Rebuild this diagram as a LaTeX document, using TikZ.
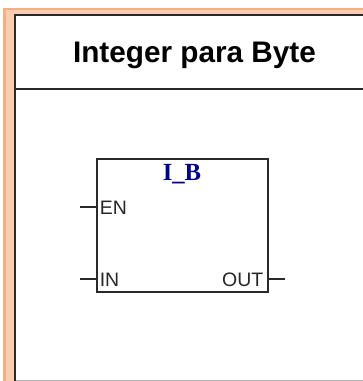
\documentclass[tikz,border=0pt]{standalone}
\usepackage{fontspec}
\setmainfont{Liberation Sans}
\newfontfamily\serifb{Liberation Serif}
\definecolor{peach}{HTML}{FBCDAE}
\definecolor{peachdark}{HTML}{F6AF84}
\definecolor{frameblack}{HTML}{2A2A2A}
\definecolor{ibblue}{HTML}{00008B}
\tikzset{
  x=0.75pt,y=-0.75pt,
  frameline/.style={draw=frameblack,line width=1.6pt},
  boxline/.style={draw=frameblack,line width=1.4pt},
  stub/.style={draw=frameblack,line width=1.4pt},
  pin/.style={inner sep=0pt,font=\fontsize{14.6pt}{16pt}\selectfont,text=black!85},
}
\begin{document}
\begin{tikzpicture}
\useasboundingbox (0,0) rectangle (363,381);
\fill[white] (0,0) rectangle (363,381);
% peach surround
\fill[peach] (3,8) rectangle (363,14);
\fill[peach] (3,8) rectangle (14,381);
\fill[peachdark] (3,8) rectangle (363,10);
\fill[peachdark] (3,8) rectangle (6,381);
% page frame
\draw[frameline] (363,15) -- (15,15) -- (15,381);
\draw[frameline,line width=1.4pt] (15,89) -- (363,89);
\draw[draw=black!30,line width=0.8pt] (16,380.5) -- (363,380.5);
% title
\node[inner sep=0pt,text=black] (title) at (194.5,55.5) {\fontsize{22.3pt}{26pt}\selectfont\bfseries Integer para Byte};
% block
\node[boxline,rectangle,outer sep=0pt,minimum width=128.25pt,minimum height=99.75pt,inner sep=0pt,anchor=north west] (block) at (97,159) {};
\node[inner sep=0pt,text=ibblue] (name) at (182,174) {\serifb\fontsize{18.5pt}{20pt}\selectfont\bfseries I\_B};
\node[pin,anchor=west] (en) at (99.5,207.5) {EN};
\node[pin,anchor=west] (in) at (99.5,279.5) {IN};
\node[pin,anchor=east] (out) at (263.5,279.5) {OUT};
% connectors
\coordinate (enfree) at (80,207);
\coordinate (infree) at (80,279);
\coordinate (outfree) at (285,279);
\draw[stub] (enfree) -- (enfree -| block.west);
\draw[stub] (infree) -- (infree -| block.west);
\draw[stub] (outfree) -- (outfree -| block.east);
\end{tikzpicture}
\end{document}
